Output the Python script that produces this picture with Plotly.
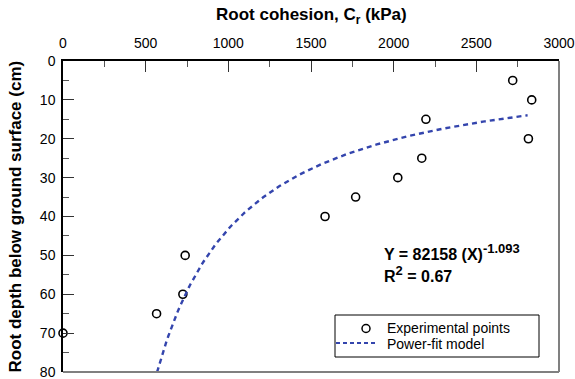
import numpy as np
import plotly.graph_objects as go

# Experimental data: root cohesion (kPa) vs depth (cm)
cohesion = [0, 566, 725, 739, 1585, 1770, 2025, 2170, 2195, 2720, 2815, 2835]
depth = [70, 65, 60, 50, 40, 35, 30, 25, 15, 5, 20, 10]

# Power-fit model Y = a * X^b (parameters as stated on the chart)
fit_a = 82158
fit_b = -1.093
fit_x_range = [569, 2810]

x_ticks = [0, 500, 1000, 1500, 2000, 2500, 3000]
y_ticks = [0, 10, 20, 30, 40, 50, 60, 70, 80]

legend_labels = ["Experimental points", "Power-fit model"]

fx = np.linspace(fit_x_range[0], fit_x_range[1], 200)
fy = fit_a * fx ** fit_b

FONT = "Arial, Liberation Sans, sans-serif"
FIT_COLOR = "#3445AD"

# plot-area geometry in pixels (for paper-coordinate helpers)
L, R, T, B = 63, 559, 61, 372
def px(x):
    return (x - L) / (R - L)
def py(y):
    return (B - y) / (B - T)

fig = go.Figure()
fig.add_trace(go.Scatter(
    x=cohesion, y=depth, mode="markers", name=legend_labels[0],
    marker=dict(symbol="circle-open", size=8, color="black", line=dict(width=1.6, color="black")),
    cliponaxis=False, showlegend=False,
))
fig.add_trace(go.Scatter(
    x=fx, y=fy, mode="lines", name=legend_labels[1],
    line=dict(color=FIT_COLOR, width=2.4, dash="5px,4px"), showlegend=False,
))

shapes = [
    dict(type="line", xref="paper", yref="paper", x0=1, x1=1, y0=0, y1=1,
         line=dict(color="#808080", width=2)),
    dict(type="line", xref="paper", yref="paper", x0=0, x1=1, y0=0, y1=0,
         line=dict(color="#808080", width=2)),
    # legend box
    dict(type="rect", xref="paper", yref="paper", x0=px(335), x1=px(539), y0=py(357), y1=py(315),
         line=dict(color="black", width=1), fillcolor="white", layer="above"),
    # legend open circle
    dict(type="circle", xref="paper", yref="paper", xsizemode="pixel", ysizemode="pixel",
         xanchor=px(366), yanchor=py(328.5), x0=-4, x1=4, y0=-4, y1=4,
         line=dict(color="black", width=1.5), layer="above"),
    # legend dashed line
    dict(type="line", xref="paper", yref="paper", x0=px(336), x1=px(378), y0=py(343), y1=py(343),
         line=dict(color=FIT_COLOR, width=2, dash="4px,3px"), layer="above"),
]

annotations = [
    dict(text="<b>Root cohesion, C<sub>r</sub> (kPa)</b>", xref="paper", yref="paper",
         x=0.5, y=py(16), xanchor="center", yanchor="middle", showarrow=False,
         font=dict(size=17, family=FONT)),
    dict(text="<b>Root depth below ground surface (cm)</b>", xref="paper", yref="paper",
         x=px(15), y=0.5, xanchor="center", yanchor="middle", showarrow=False, textangle=-90,
         font=dict(size=17, family=FONT)),
    dict(text="<b>Y = 82158 (X)<sup><span style='font-size:13px'>-1.093</span></sup></b>",
         xref="paper", yref="paper",
         x=px(382), y=py(252), xanchor="left", yanchor="middle",
         showarrow=False, font=dict(size=16, family=FONT)),
    dict(text="<b>R<sup><span style='font-size:13px'>2</span></sup> = 0.67</b>", xref="paper", yref="paper",
         x=px(382), y=py(274), xanchor="left", yanchor="middle",
         showarrow=False, font=dict(size=16, family=FONT)),
    dict(text=legend_labels[0], xref="paper", yref="paper", x=px(385), y=py(328),
         xanchor="left", yanchor="middle", showarrow=False, font=dict(size=14, family=FONT)),
    dict(text=legend_labels[1], xref="paper", yref="paper", x=px(385), y=py(344),
         xanchor="left", yanchor="middle", showarrow=False, font=dict(size=14, family=FONT)),
]

fig.update_layout(
    width=575, height=379,
    margin=dict(l=L, r=575 - R, t=T, b=379 - B, autoexpand=False),
    paper_bgcolor="white", plot_bgcolor="white",
    font=dict(family=FONT, size=14, color="black"),
    showlegend=False,
    xaxis=dict(
        side="top", range=[0, 3000], tickvals=x_ticks, automargin=False,
        showgrid=False, zeroline=False,
        showline=True, linecolor="black", linewidth=1.5,
        ticks="inside", ticklen=11, tickwidth=1.2, tickcolor="#333",
        minor=dict(ticks="inside", ticklen=6, tickwidth=1.2, tickcolor="#555", dtick=250, showgrid=False),
        tickfont=dict(size=14, family=FONT), ticklabelstandoff=6, ticklabeloverflow="allow",
    ),
    yaxis=dict(
        range=[80, 0], tickvals=y_ticks, automargin=False,
        showgrid=False, zeroline=False,
        showline=True, linecolor="black", linewidth=1.5,
        ticks="inside", ticklen=11, tickwidth=1.2, tickcolor="#333",
        minor=dict(ticks="inside", ticklen=6, tickwidth=1.2, tickcolor="#555", dtick=5, showgrid=False),
        tickfont=dict(size=14, family=FONT), ticklabelstandoff=3, ticklabeloverflow="allow",
    ),
    shapes=shapes,
    annotations=annotations,
)

fig.write_html("out.html")
